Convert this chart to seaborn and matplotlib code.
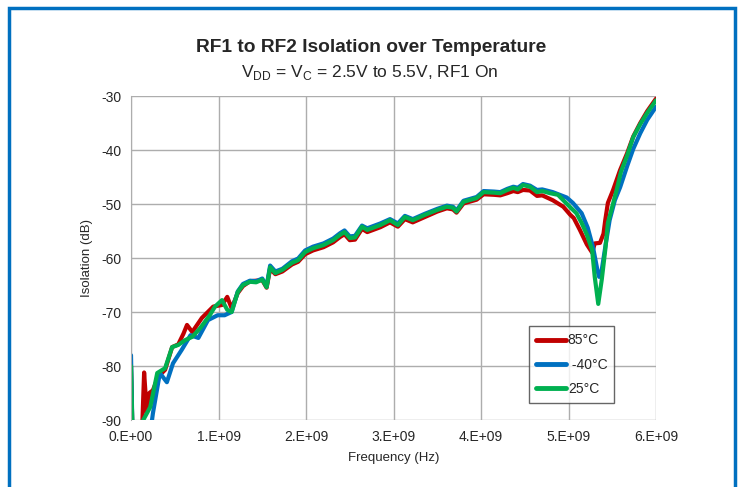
import pandas as pd
import numpy as np
import matplotlib
matplotlib.use('Agg')
import matplotlib.pyplot as plt
import seaborn as sns
from matplotlib.patches import Rectangle
from matplotlib.ticker import FuncFormatter

# frequency in GHz, isolation in dB
f_85 = [0.00, 0.02, 0.12, 0.15, 0.18, 0.21, 0.25, 0.31, 0.39, 0.47, 0.54, 0.60, 0.64, 0.70, 0.81, 0.94,
        1.04, 1.10, 1.15, 1.22, 1.28, 1.36, 1.43, 1.50, 1.55, 1.59, 1.65, 1.73, 1.84, 1.91, 1.99,
        2.08, 2.20, 2.31, 2.39, 2.44, 2.50, 2.56, 2.64, 2.70, 2.85, 2.96, 3.05, 3.13, 3.22, 3.36,
        3.50, 3.61, 3.68, 3.72, 3.80, 3.95, 4.03, 4.15, 4.22, 4.30, 4.37, 4.42, 4.48, 4.56, 4.64,
        4.70, 4.82, 4.94, 5.02, 5.06, 5.13, 5.21, 5.27, 5.30, 5.36, 5.40, 5.42, 5.45, 5.51, 5.59,
        5.67, 5.74, 5.82, 5.90, 6.00]
iso_85 = [-80.0, -95.0, -95.0, -81.2, -88.5, -85.0, -84.5, -82.0, -80.7, -76.5, -76.0, -74.0, -72.4, -73.7, -71.1, -69.0,
          -68.7, -67.2, -69.3, -66.5, -65.2, -64.3, -64.2, -64.1, -65.5, -62.0, -63.0, -62.5, -61.2, -60.7, -59.3,
          -58.6, -58.0, -57.1, -56.1, -55.6, -56.7, -56.6, -54.6, -55.2, -54.3, -53.4, -54.2, -52.8, -53.4, -52.4,
          -51.4, -50.8, -51.0, -51.6, -49.9, -49.2, -48.2, -48.3, -48.4, -48.0, -47.6, -47.8, -47.4, -47.5, -48.5,
          -48.4, -49.3, -50.5, -52.0, -52.6, -54.8, -57.5, -59.0, -57.3, -57.2, -55.5, -53.0, -49.8, -47.4, -43.7,
          -40.6, -37.5, -35.0, -32.8, -30.5]

f_m40 = [0.00, 0.02, 0.20, 0.25, 0.33, 0.41, 0.48, 0.58, 0.68, 0.77, 0.88, 0.99, 1.07, 1.15, 1.22, 1.28,
         1.36, 1.43, 1.50, 1.55, 1.59, 1.65, 1.73, 1.84, 1.91, 1.99, 2.08, 2.20, 2.31, 2.39, 2.44,
         2.50, 2.56, 2.64, 2.70, 2.85, 2.96, 3.05, 3.13, 3.22, 3.36, 3.50, 3.61, 3.68, 3.72, 3.80,
         3.95, 4.03, 4.15, 4.22, 4.30, 4.37, 4.42, 4.48, 4.56, 4.64, 4.70, 4.82, 4.90, 4.98, 5.05,
         5.15, 5.22, 5.28, 5.33, 5.35, 5.38, 5.42, 5.47, 5.53, 5.59, 5.67, 5.74, 5.82, 5.90, 6.00]
iso_m40 = [-78.0, -95.0, -95.0, -88.8, -81.3, -83.0, -79.5, -77.0, -74.3, -74.8, -71.5, -70.6, -70.6, -70.0, -66.2, -64.8,
           -64.2, -64.3, -63.8, -65.2, -61.4, -62.5, -62.0, -60.6, -60.1, -58.6, -57.9, -57.3, -56.4, -55.4, -54.9,
           -56.0, -55.9, -54.0, -54.5, -53.6, -52.8, -53.6, -52.2, -52.8, -51.8, -50.9, -50.3, -50.5, -51.2, -49.4,
           -48.7, -47.6, -47.7, -47.8, -47.2, -46.8, -47.0, -46.3, -46.6, -47.4, -47.3, -47.8, -48.3, -48.8, -49.8,
           -51.7, -54.4, -58.0, -62.2, -63.5, -62.2, -58.0, -53.0, -49.3, -46.9, -43.0, -39.8, -36.9, -34.4, -32.0]

f_25 = [0.00, 0.02, 0.12, 0.14, 0.22, 0.30, 0.39, 0.47, 0.54, 0.62, 0.70, 0.79, 0.90, 0.96, 1.04, 1.10,
        1.15, 1.22, 1.28, 1.36, 1.43, 1.50, 1.55, 1.59, 1.65, 1.73, 1.84, 1.91, 1.99, 2.08, 2.20,
        2.31, 2.39, 2.44, 2.50, 2.56, 2.64, 2.70, 2.85, 2.96, 3.05, 3.13, 3.22, 3.36, 3.50, 3.61,
        3.68, 3.72, 3.80, 3.95, 4.03, 4.15, 4.22, 4.30, 4.37, 4.42, 4.48, 4.56, 4.64, 4.70, 4.79,
        4.88, 4.94, 5.02, 5.09, 5.15, 5.21, 5.27, 5.30, 5.34, 5.38, 5.42, 5.45, 5.50, 5.55, 5.60,
        5.67, 5.74, 5.82, 5.90, 6.00]
iso_25 = [-80.0, -95.0, -95.0, -90.0, -87.6, -81.3, -80.4, -76.5, -76.1, -75.2, -74.6, -73.0, -70.6, -69.0, -67.8, -69.6,
          -70.0, -66.3, -65.0, -64.4, -64.5, -64.0, -65.4, -61.7, -62.8, -62.2, -60.9, -60.4, -58.9, -58.2, -57.6,
          -56.7, -55.7, -55.2, -56.3, -56.2, -54.2, -54.8, -53.9, -53.0, -53.9, -52.4, -53.0, -52.0, -51.1, -50.5,
          -50.7, -51.4, -49.6, -48.9, -47.8, -47.9, -48.0, -47.4, -47.0, -47.3, -46.5, -46.8, -47.8, -47.6, -48.0,
          -48.3, -49.3, -50.6, -51.7, -53.5, -55.7, -58.5, -63.5, -68.5, -64.0, -58.5, -53.5, -50.5, -47.4, -44.0,
          -41.0, -37.6, -35.2, -33.1, -30.8]

labels = ['85°C', ' -40°C', '25°C']
colors = ['#C00000', '#0070C0', '#00B050']

frames = []
for lab, f, v in zip(labels, [f_85, f_m40, f_25], [iso_85, iso_m40, iso_25]):
    frames.append(pd.DataFrame({'freq': np.array(f) * 1e9, 'iso': v, 'temp': lab}))
df = pd.concat(frames, ignore_index=True)

sns.set_style('white')
plt.rcParams['font.family'] = ['Liberation Sans', 'DejaVu Sans']
plt.rcParams['mathtext.fontset'] = 'custom'
plt.rcParams['mathtext.rm'] = 'Liberation Sans'
plt.rcParams['axes.unicode_minus'] = False

fig = plt.figure(figsize=(7.4, 4.87), dpi=100)
ax = fig.add_axes([131 / 740, 1 - 420 / 487, 525 / 740, 324 / 487])

sns.lineplot(data=df, x='freq', y='iso', hue='temp', hue_order=labels, palette=colors,
             sort=False, estimator=None, linewidth=3.0, ax=ax)

ax.set_xlim(0, 6e9)
ax.set_ylim(-90, -30)
ax.set_xticks(np.arange(0, 7) * 1e9)
ax.set_yticks(np.arange(-90, -29, 10))
ax.xaxis.set_major_formatter(FuncFormatter(lambda x, p: '%d.E+%02d' % (round(x / 1e9), 9 if x > 0 else 0)))
ax.grid(True, color='#ADADAD', linewidth=1.0)
ax.set_axisbelow(True)
for s in ['top', 'right', 'bottom']:
    ax.spines[s].set_visible(False)
ax.spines['left'].set_color('#ADADAD')
ax.tick_params(axis='both', length=4, color='#ADADAD', labelsize=10, labelcolor='#262626', pad=3)

ax.set_xlabel('Frequency (Hz)', fontsize=9.5, color='#262626', labelpad=6)
ax.set_ylabel('Isolation (dB)', fontsize=9.5, color='#262626', labelpad=6)

leg = ax.legend(loc='lower left', bbox_to_anchor=(0.758, 0.052), fontsize=10, frameon=True,
                fancybox=False, edgecolor='#404040', handlelength=2.2, handletextpad=0.1,
                labelspacing=0.75, borderpad=0.5, borderaxespad=0.0, title=None)
leg.get_frame().set_linewidth(1.0)
for line in leg.get_lines():
    line.set_linewidth(3.5)

fig.text(371 / 740, 1 - 47 / 487, 'RF1 to RF2 Isolation over Temperature', ha='center', va='center',
         fontsize=13.8, fontweight='bold', color='#262626')
fig.text(370 / 740, 1 - 73 / 487, r'V$_{\mathrm{DD}}$ = V$_{\mathrm{C}}$ = 2.5V to 5.5V, RF1 On',
         ha='center', va='center', fontsize=12.5, color='#262626')

fig.patches.append(Rectangle((8.5 / 740, -0.02), 726 / 740, 1.02 - 8.5 / 487, transform=fig.transFigure,
                             fill=False, edgecolor='#0070C0', linewidth=2.5))

fig.savefig('out.png', dpi=100)
